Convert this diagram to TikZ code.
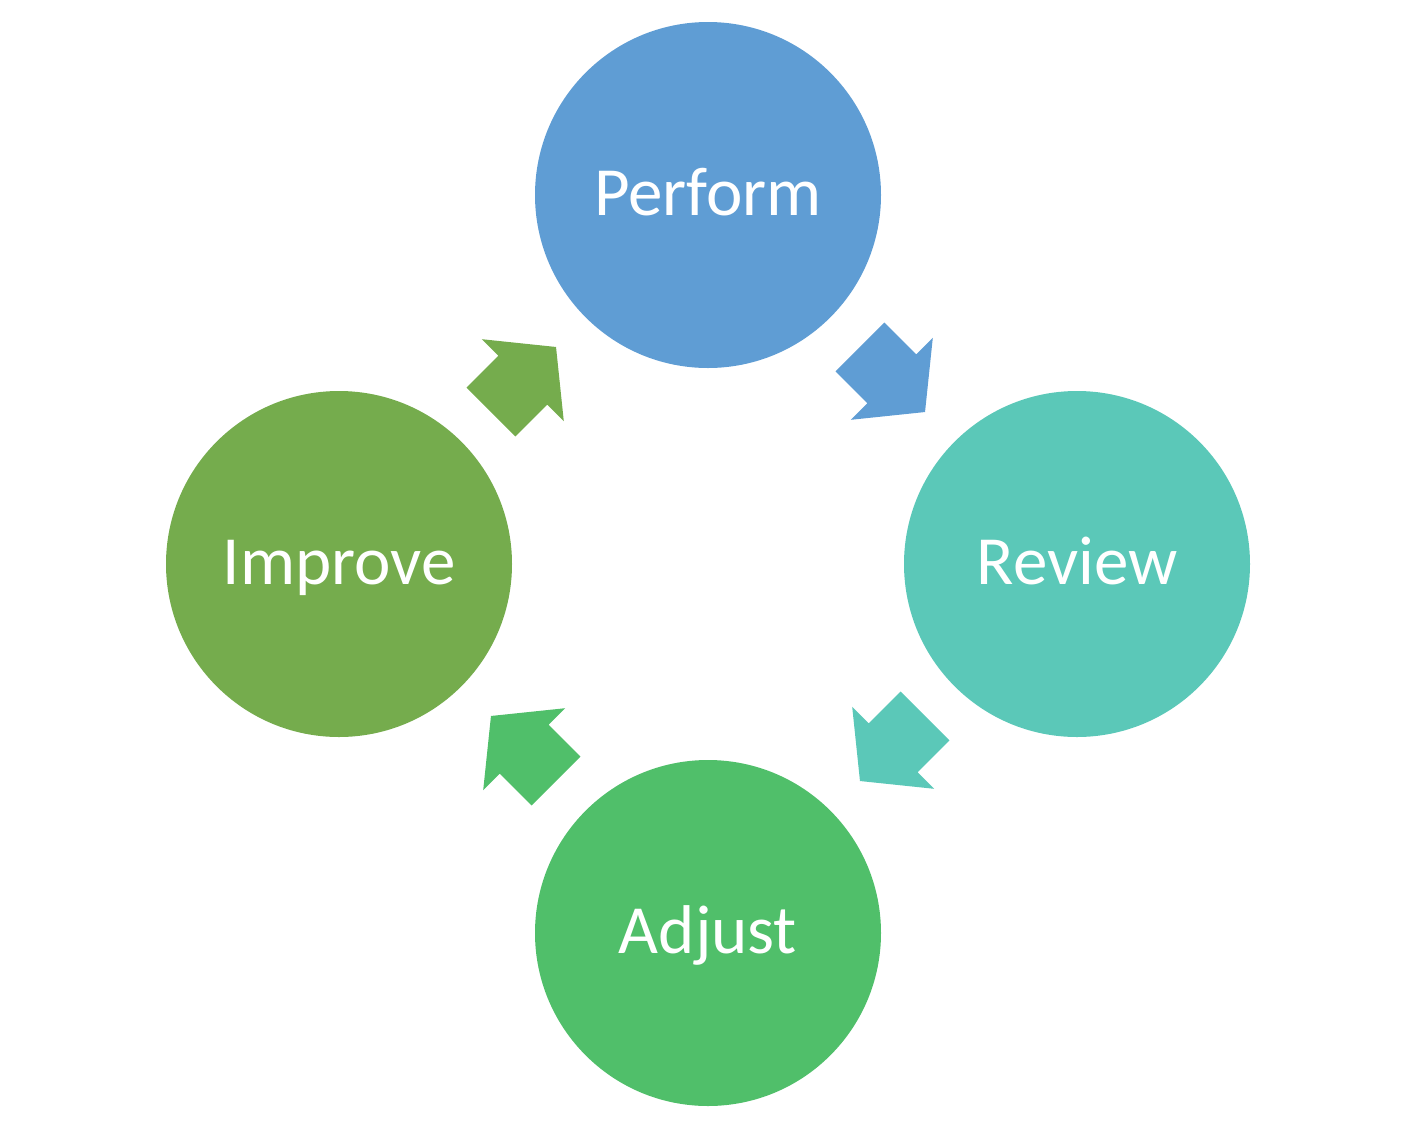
\documentclass[tikz,border=0pt]{standalone}
\usepackage{fontspec}
\setmainfont{Carlito}
\definecolor{cperform}{HTML}{5F9DD4}
\definecolor{creview}{HTML}{5BC8B8}
\definecolor{cadjust}{HTML}{50BF6A}
\definecolor{cimprove}{HTML}{75AC4D}
\newcommand\cyclearrow[3]{%
  \fill[#3, shift={(#1)}, rotate=#2]
    (-46,-34.5) -- (-1,-34.5) -- (-1,-58) -- (46,0) -- (-1,58) -- (-1,34.5) -- (-46,34.5) -- cycle;}
\begin{document}
\begin{tikzpicture}[x=1pt,y=-1pt,
  stage/.style={circle, minimum size=346pt, inner sep=0pt, fill=#1,
    text=white, text height=41pt, text depth=0pt,
    font=\fontsize{69}{72}\selectfont}]
\useasboundingbox (0,0) rectangle (1428,1144);
\node[stage=cperform] (perform) at (708,195) {Perform};
\node[stage=creview] (review) at (1077,564) {Review};
\node[stage=cadjust] (adjust) at (708,933) {Adjust};
\node[stage=cimprove] (improve) at (339,564) {Improve};
\path (perform.center) -- (review.center) coordinate[midway] (m1);
\path (review.center) -- (adjust.center) coordinate[midway] (m2);
\path (adjust.center) -- (improve.center) coordinate[midway] (m3);
\path (improve.center) -- (perform.center) coordinate[midway] (m4);
\cyclearrow{m1}{-45}{cperform}
\cyclearrow{m2}{-135}{creview}
\cyclearrow{m3}{135}{cadjust}
\cyclearrow{m4}{45}{cimprove}
\end{tikzpicture}
\end{document}
